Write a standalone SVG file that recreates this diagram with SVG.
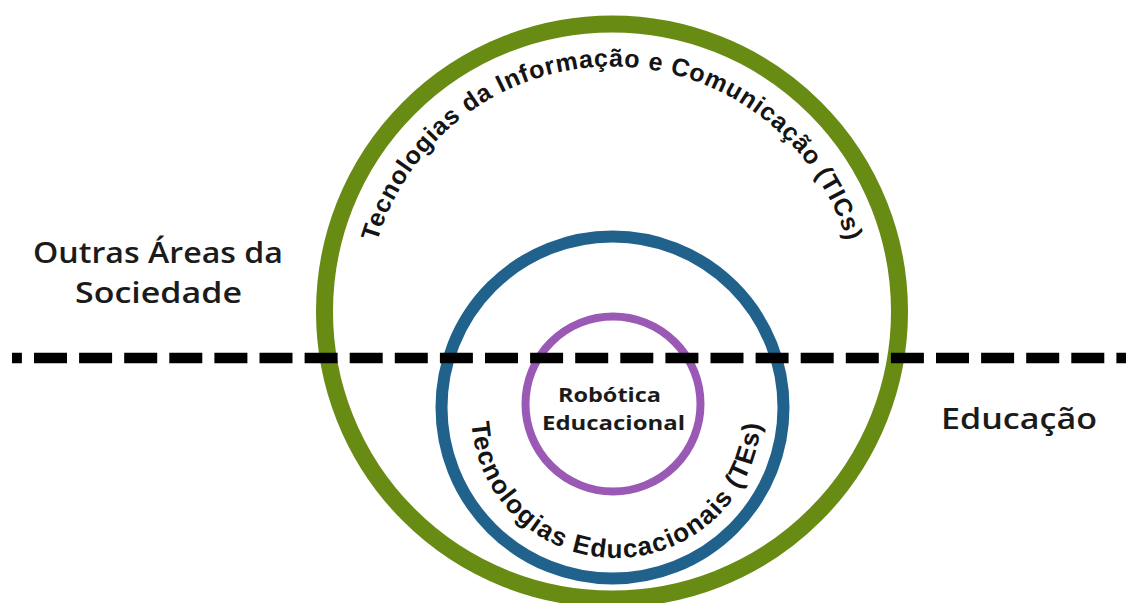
<svg xmlns="http://www.w3.org/2000/svg" width="1126" height="603" viewBox="0 0 1126 603">
<style>
 .ring{fill:none}
 .lbl{font-family:"Open Sans","Liberation Sans",Arial,sans-serif;font-weight:600;font-size:29px;fill:#1b1b1b}
 .mid{font-family:"Open Sans","Liberation Sans",Arial,sans-serif;font-weight:700;font-size:20px;fill:#1b1b1b}
 .arc{font-family:"Liberation Sans",Arial,sans-serif;font-weight:bold;fill:#141414}
</style>
<defs>
 <path id="ticsPath" d="M367 311.5 A245 245 0 0 1 857 311.5"/>
 <path id="tesPath" d="M471 413 A145 145 0 0 0 761 413"/>
</defs>
<rect width="1126" height="603" fill="#ffffff"/>
<g id="tics">
 <circle class="ring" cx="612" cy="311.5" r="287.5" stroke="#688b13" stroke-width="17"/>
 <text class="arc" font-size="25" letter-spacing="0.8"><textPath href="#ticsPath" startOffset="50%" text-anchor="middle">Tecnologias da Informação e Comunicação (TICs)</textPath></text>
</g>
<g id="tes">
 <circle class="ring" cx="612.5" cy="407.5" r="171" stroke="#21628d" stroke-width="12"/>
 <text class="arc" font-size="26" letter-spacing="1.3"><textPath href="#tesPath" startOffset="50%" text-anchor="middle">Tecnologias Educacionais (TEs)</textPath></text>
</g>
<g id="robotica">
 <circle class="ring" cx="613" cy="404" r="87.5" stroke="#9b59b6" stroke-width="8"/>
 <text class="mid" x="558" y="402" textLength="103" lengthAdjust="spacingAndGlyphs">Robótica</text>
 <text class="mid" x="542" y="430" textLength="143" lengthAdjust="spacingAndGlyphs">Educacional</text>
</g>
<g id="divider">
 <line x1="12" y1="358" x2="1126" y2="358" stroke="#000000" stroke-width="10.5" stroke-dasharray="33 12.1" stroke-dashoffset="23.1"/>
</g>
<g id="outras">
 <text class="lbl" x="33" y="263" textLength="250" lengthAdjust="spacingAndGlyphs">Outras Áreas da</text>
 <text class="lbl" x="75" y="303" textLength="167" lengthAdjust="spacingAndGlyphs">Sociedade</text>
</g>
<g id="educacao">
 <text class="lbl" x="941" y="429" textLength="156" lengthAdjust="spacingAndGlyphs">Educação</text>
</g>
</svg>
